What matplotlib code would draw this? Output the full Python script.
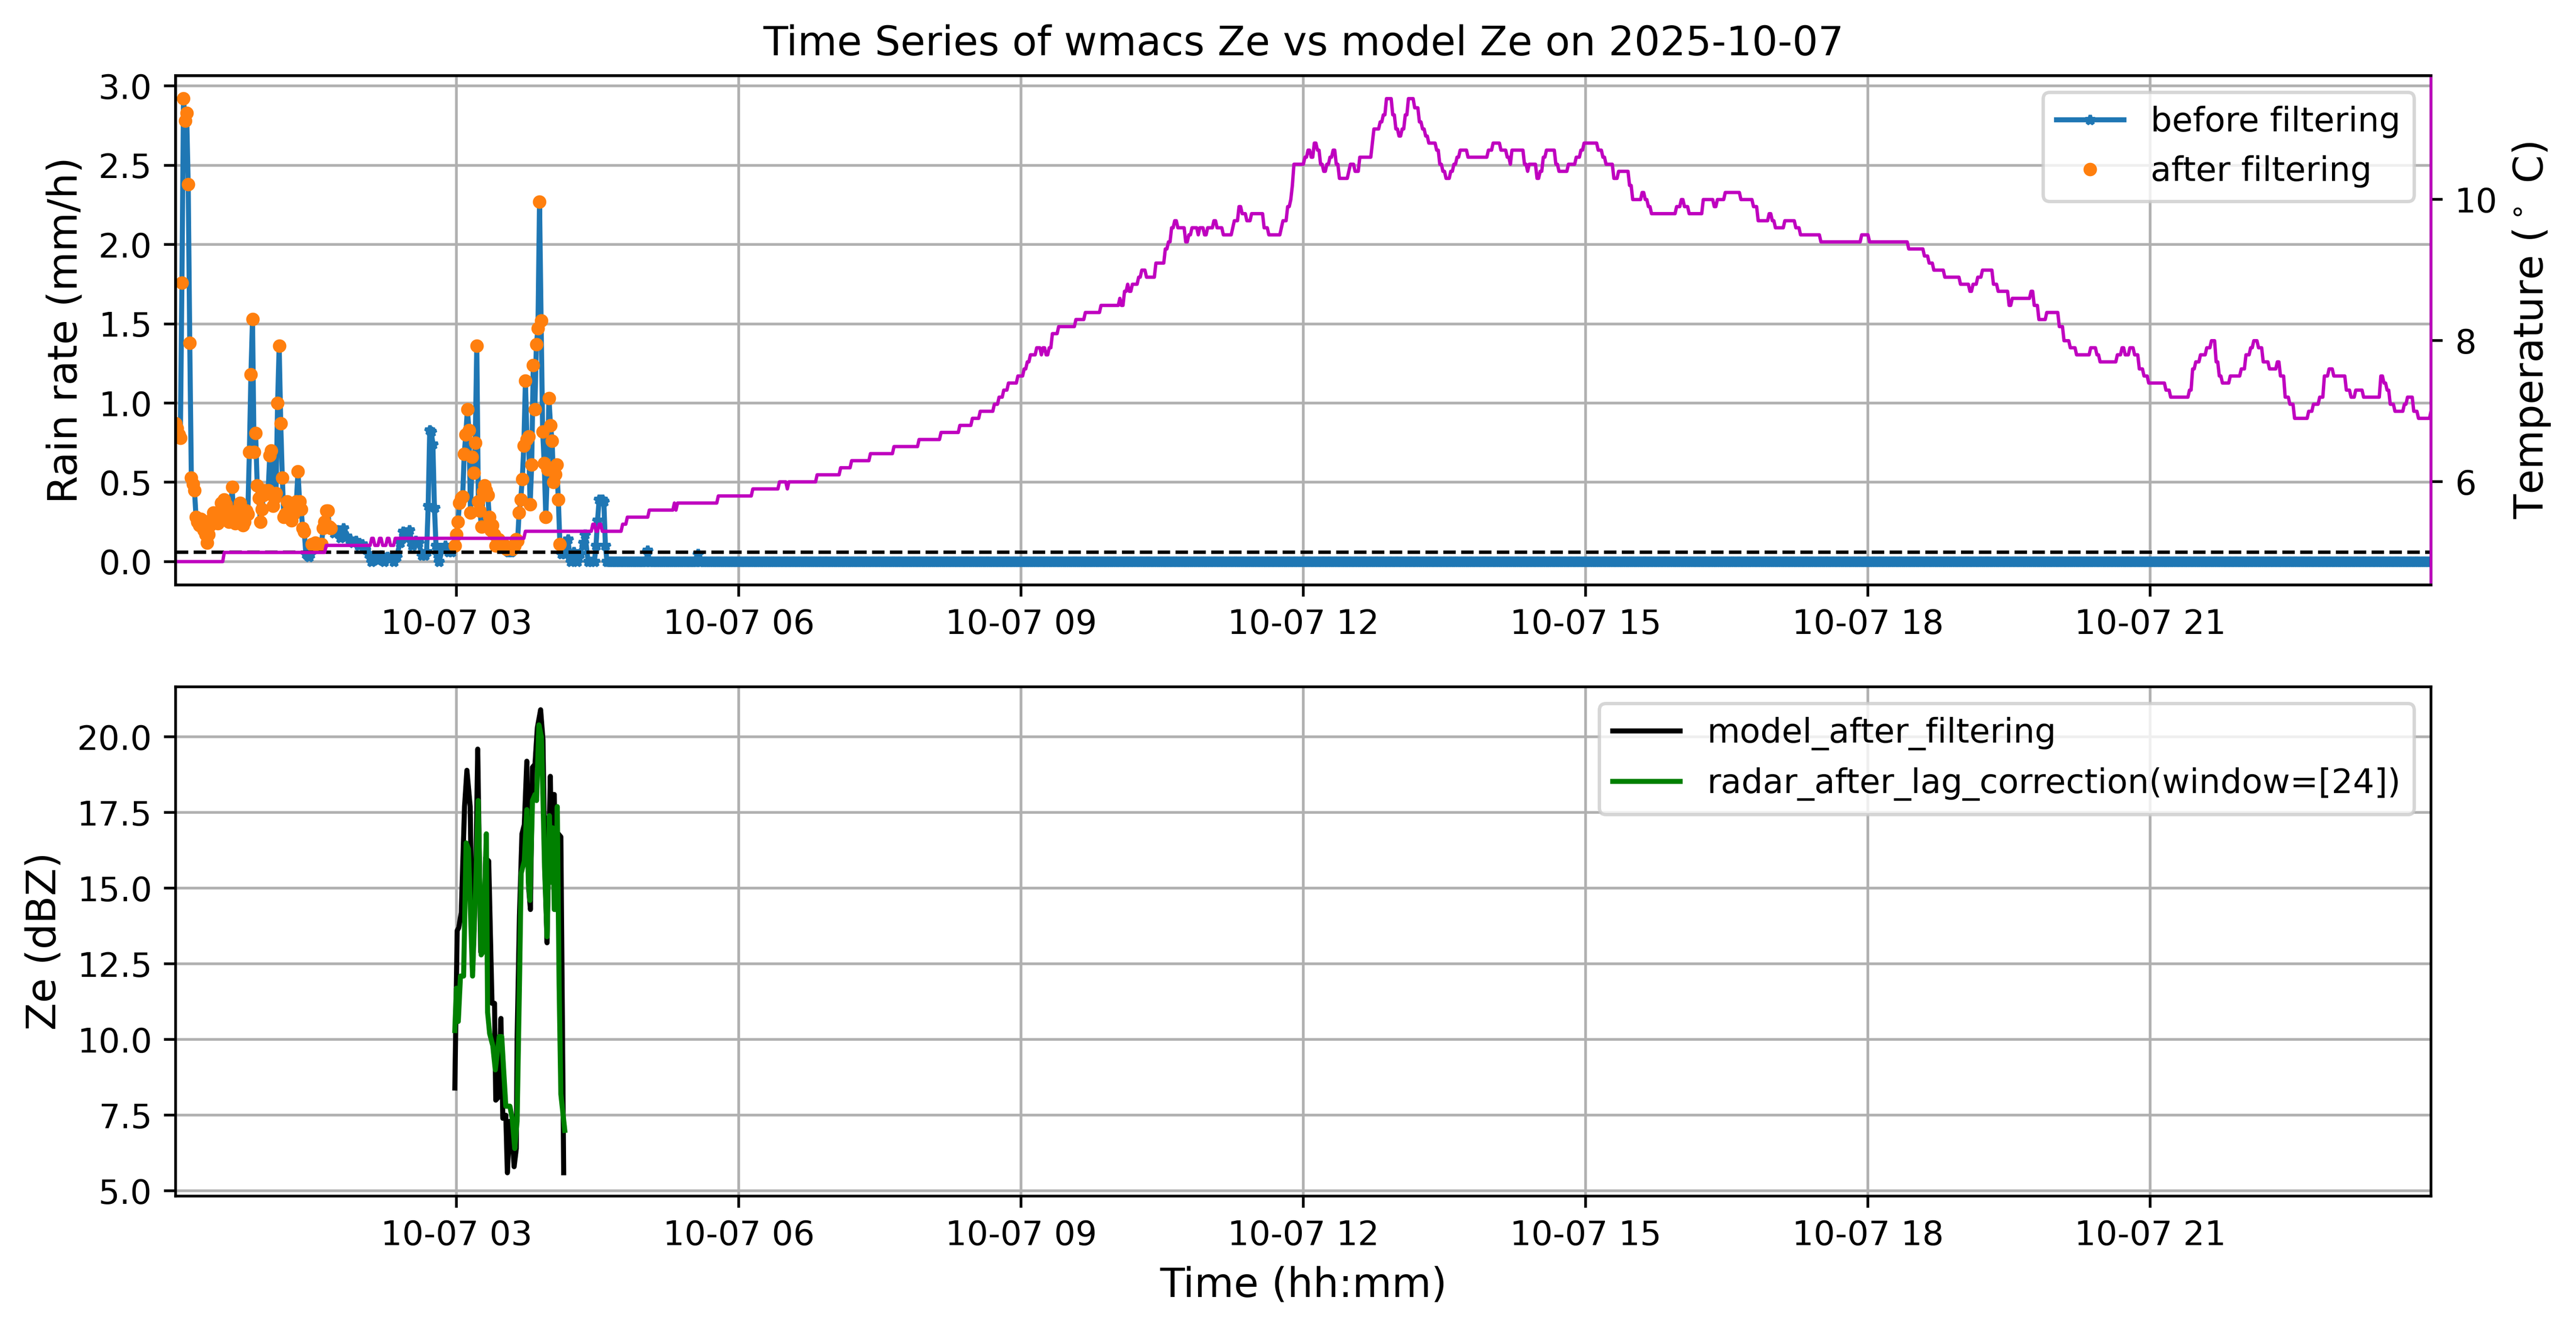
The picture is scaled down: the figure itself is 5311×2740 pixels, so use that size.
import numpy as np
import pandas as pd
import matplotlib
matplotlib.use("Agg")
import matplotlib.pyplot as plt

day = pd.Timestamp("2025-10-07")

# rain rate (mm/h), minutes after midnight
rain_minutes = list(range(1, 101)) + list(range(102, 147, 2)) + [
    148, 150, 152, 154, 156, 158, 160, 161, 162, 163, 164, 165, 166, 167, 168, 169,
    171, 173, 175, 177] + list(range(179, 248)) + [
    249, 251, 253, 255, 257, 259, 261, 262, 264, 266, 268, 269, 270, 271, 273, 274,
    275, 276, 302, 334]
rain_values = [
    0.87, 0.84, 0.80, 0.78, 1.76, 2.92, 2.78, 2.83, 2.38, 1.38,
    0.53, 0.49, 0.45, 0.28, 0.25, 0.23, 0.27, 0.26, 0.20, 0.17,
    0.12, 0.17, 0.23, 0.27, 0.31, 0.25, 0.27, 0.24, 0.29, 0.37,
    0.33, 0.39, 0.36, 0.30, 0.25, 0.30, 0.47, 0.27, 0.24, 0.25,
    0.33, 0.37, 0.28, 0.23, 0.25, 0.32, 0.30, 0.69, 1.18, 1.53,
    0.69, 0.81, 0.48, 0.40, 0.25, 0.33, 0.42, 0.45, 0.44, 0.45,
    0.67, 0.70, 0.35, 0.40, 0.43, 1.00, 1.36, 0.87, 0.53, 0.28,
    0.30, 0.38, 0.32, 0.30, 0.26, 0.30, 0.33, 0.38, 0.57, 0.38,
    0.33, 0.21, 0.19, 0.05, 0.04, 0.03, 0.05, 0.11, 0.10, 0.12,
    0.10, 0.11, 0.10, 0.11, 0.21, 0.25, 0.32, 0.32, 0.22, 0.21,
    # 102..146 every 2 min
    0.18, 0.20, 0.15, 0.21, 0.16, 0.14, 0.12, 0.13, 0.10, 0.11, 0.08, 0.05,
    0.00, 0.03, 0.01, 0.04, 0.00, 0.03, 0.02, 0.00, 0.03, 0.12, 0.19,
    # 148..177
    0.15, 0.20, 0.10, 0.13, 0.12, 0.04, 0.04, 0.06, 0.35, 0.83, 0.82, 0.74, 0.34, 0.10,
    0.05, 0.00, 0.08, 0.10, 0.06, 0.06,
    # 179..247
    0.10, 0.17, 0.25, 0.37, 0.40, 0.41, 0.68, 0.80, 0.96, 0.83,
    0.31, 0.66, 0.56, 0.75, 1.36, 0.38, 0.32, 0.22, 0.44, 0.48,
    0.45, 0.42, 0.28, 0.20, 0.23, 0.17, 0.10, 0.10, 0.14, 0.12,
    0.10, 0.10, 0.10, 0.08, 0.06, 0.06, 0.06, 0.08, 0.10, 0.14,
    0.13, 0.31, 0.39, 0.52, 0.73, 1.14, 0.77, 0.79, 0.36, 0.61,
    1.24, 0.96, 1.37, 1.47, 2.27, 1.52, 0.82, 0.62, 0.28, 0.58,
    1.03, 0.86, 0.76, 0.50, 0.55, 0.61, 0.39, 0.11, 0.05,
    # 249..334
    0.05, 0.14, 0.00, 0.06, 0.00, 0.05, 0.12, 0.17, 0.00, 0.00, 0.00, 0.10, 0.26, 0.39,
    0.39, 0.38, 0.10, 0.00, 0.07, 0.05]
dry_start, dry_end = 277, 1439   # rain stays at 0 mm/h here
dry_value = 0.0
threshold = 0.06
after_windows = [(1, 100), (179, 247)]

# temperature (deg C): minute where the reading changes, new reading
temp_minutes = [
    1, 32, 97, 126, 128, 131, 133, 136, 138, 141, 224, 267, 269, 271, 273, 286, 289, 303, 319, 320,
    321, 347, 369, 386, 391, 392, 410, 425, 432, 444, 459, 475, 489, 501, 509, 514, 523, 526, 529, 532,
    538, 542, 544, 546, 550, 553, 554, 556, 558, 560, 564, 575, 581, 591, 603, 604, 606, 608, 609, 611,
    615, 617, 620, 626, 632, 634, 636, 638, 640, 645, 647, 649, 653, 654, 657, 659, 663, 665, 669, 675,
    676, 679, 681, 684, 687, 695, 698, 706, 707, 710, 712, 713, 714, 721, 723, 725, 727, 729, 731, 733,
    735, 737, 739, 741, 743, 749, 750, 753, 756, 764, 765, 769, 771, 773, 777, 779, 781, 783, 785, 787,
    791, 794, 796, 798, 800, 805, 807, 809, 811, 814, 816, 818, 820, 825, 838, 841, 846, 850, 852, 853,
    861, 863, 864, 869, 871, 873, 875, 881, 883, 889, 894, 897, 899, 908, 911, 913, 918, 921, 928, 930,
    936, 938, 940, 942, 958, 961, 963, 966, 975, 982, 984, 989, 999, 1007, 1010, 1017, 1019, 1021, 1027, 1034,
    1037, 1050, 1076, 1081, 1106, 1116, 1119, 1122, 1129, 1139, 1145, 1147, 1150, 1153, 1160, 1163, 1170, 1172, 1184, 1186,
    1189, 1194, 1202, 1205, 1209, 1213, 1222, 1226, 1228, 1239, 1242, 1244, 1247, 1250, 1253, 1256, 1259, 1270, 1273, 1285,
    1287, 1289, 1292, 1296, 1299, 1302, 1304, 1306, 1311, 1318, 1321, 1324, 1326, 1329, 1332, 1336, 1341, 1343, 1346, 1349,
    1352, 1361, 1364, 1368, 1371, 1374, 1377, 1385, 1388, 1391, 1396, 1407, 1409, 1411, 1413, 1416, 1422, 1424, 1428, 1431,
    1439]
temp_values = [
    4.87, 5.0, 5.1, 5.2, 5.1, 5.2, 5.1, 5.2, 5.1, 5.2, 5.3, 5.4, 5.3, 5.4, 5.3, 5.4, 5.5, 5.6, 5.7, 5.6,
    5.7, 5.8, 5.9, 6.0, 5.9, 6.0, 6.1, 6.2, 6.3, 6.4, 6.5, 6.6, 6.7, 6.8, 6.9, 7.0, 7.1, 7.2, 7.3, 7.4,
    7.5, 7.6, 7.7, 7.8, 7.9, 7.8, 7.9, 7.8, 7.9, 8.1, 8.2, 8.3, 8.4, 8.5, 8.6, 8.5, 8.7, 8.8, 8.7, 8.8,
    8.9, 9.0, 8.9, 9.1, 9.3, 9.4, 9.6, 9.7, 9.6, 9.4, 9.5, 9.6, 9.5, 9.6, 9.5, 9.6, 9.7, 9.6, 9.5, 9.6,
    9.7, 9.9, 9.8, 9.7, 9.8, 9.6, 9.5, 9.6, 9.7, 9.9, 10.0, 10.2, 10.5, 10.6, 10.7, 10.6, 10.8, 10.7, 10.5, 10.4,
    10.5, 10.6, 10.7, 10.5, 10.3, 10.4, 10.5, 10.4, 10.6, 10.8, 11.0, 11.1, 11.2, 11.43, 11.2, 11.0, 10.9, 11.0, 11.2, 11.43,
    11.3, 11.1, 11.0, 10.9, 10.8, 10.7, 10.5, 10.4, 10.3, 10.4, 10.5, 10.6, 10.7, 10.6, 10.7, 10.8, 10.7, 10.6, 10.5, 10.7,
    10.5, 10.4, 10.5, 10.3, 10.4, 10.6, 10.7, 10.5, 10.4, 10.5, 10.6, 10.7, 10.8, 10.7, 10.6, 10.5, 10.3, 10.4, 10.2, 10.0,
    10.1, 10.0, 9.9, 9.8, 9.9, 10.0, 9.9, 9.8, 10.0, 9.9, 10.0, 10.1, 10.0, 9.9, 9.7, 9.8, 9.7, 9.6, 9.7, 9.6,
    9.5, 9.4, 9.5, 9.4, 9.3, 9.2, 9.1, 9.0, 8.9, 8.8, 8.7, 8.8, 8.9, 9.0, 8.8, 8.7, 8.5, 8.6, 8.7, 8.5,
    8.3, 8.4, 8.2, 8.0, 7.9, 7.8, 7.9, 7.8, 7.7, 7.8, 7.9, 7.8, 7.9, 7.8, 7.6, 7.5, 7.4, 7.3, 7.2, 7.3,
    7.6, 7.7, 7.8, 7.9, 8.0, 7.7, 7.5, 7.4, 7.5, 7.6, 7.8, 7.9, 8.0, 7.9, 7.7, 7.6, 7.7, 7.5, 7.2, 7.1,
    6.9, 7.0, 7.1, 7.2, 7.5, 7.6, 7.5, 7.3, 7.2, 7.3, 7.2, 7.5, 7.4, 7.3, 7.1, 7.0, 7.1, 7.2, 7.0, 6.9,
    7.0]

# Ze (dBZ)
ze_model_minutes = [
    179.0, 180.5, 181.5, 183.1, 185.2, 186.7, 188.8, 190.3, 192.4, 193.6, 195.5, 197.5, 198.6, 200.6,
    202.7, 204.3, 205.1, 206.8, 208.4, 209.6, 211.5, 212.5, 214.1, 215.6, 216.8, 218.2, 218.7, 220.2,
    221.8, 223.3, 224.9, 226.1, 227.2, 228.5, 230.1, 231.6, 233.7, 235.2, 236.4, 237.8, 238.8, 239.9,
    240.9, 241.6, 242.4, 243.5, 245.0, 246.6, 248.4]
ze_model_values = [
    8.4, 13.6, 13.7, 14.2, 17.7, 18.9, 17.7, 12.3, 15.6, 19.6, 12.9, 13.0, 16.0, 15.9,
    11.2, 11.2, 8.0, 8.1, 10.7, 7.4, 7.5, 5.6, 7.3, 6.9, 5.8, 6.4, 10.0, 14.1,
    16.8, 17.1, 19.2, 15.0, 14.3, 19.0, 19.1, 20.3, 20.9, 19.9, 15.7, 13.2, 16.0, 18.7,
    15.2, 18.1, 18.1, 15.2, 16.8, 16.7, 5.6]
ze_radar_minutes = [
    179.0, 180.0, 181.2, 182.6, 184.6, 186.2, 187.7, 190.3, 192.4, 193.9, 195.8, 197.0, 199.1, 199.9,
    201.2, 203.2, 204.8, 207.3, 208.9, 209.9, 211.5, 214.1, 215.6, 217.2, 218.7, 220.2, 221.3, 223.3,
    224.9, 225.9, 226.9, 228.5, 230.1, 231.1, 232.6, 234.2, 235.2, 236.2, 237.8, 239.3, 240.4, 241.4,
    242.4, 243.5, 244.3, 245.5, 246.6, 249.1]
ze_radar_values = [
    10.3, 11.7, 10.6, 12.1, 12.1, 16.5, 16.3, 12.1, 15.2, 17.9, 12.8, 12.9, 16.8, 10.9,
    10.2, 9.8, 9.0, 10.1, 10.1, 9.2, 7.8, 7.8, 7.4, 6.4, 7.3, 11.8, 15.5, 15.9,
    17.6, 15.2, 14.6, 17.9, 18.1, 17.9, 20.4, 20.0, 18.0, 15.7, 13.4, 17.4, 15.2, 17.0,
    14.3, 14.3, 17.7, 11.8, 8.2, 7.0]


def to_time(minutes):
    return day + pd.to_timedelta(np.asarray(minutes, dtype=float), unit="min")


# rain series: wet readings plus the dry rest of the day
dry_minutes = [m for m in range(dry_start, dry_end + 1) if m not in rain_minutes]
rain = pd.Series(rain_values + [dry_value] * len(dry_minutes),
                 index=rain_minutes + dry_minutes).sort_index()
rain_t = to_time(rain.index)

keep = np.zeros(len(rain), dtype=bool)
for a, b in after_windows:
    keep |= (rain.index >= a) & (rain.index <= b)
keep &= rain.values > threshold

# temperature holds its value until the next change
tx, ty = [], []
for i, (m, v) in enumerate(zip(temp_minutes, temp_values)):
    tx.append(m)
    ty.append(v)
    if i + 1 < len(temp_minutes) and temp_minutes[i + 1] - 1 > m:
        tx.append(temp_minutes[i + 1] - 1)
        ty.append(v)
temp_t = to_time(tx)

fig, (ax1, ax3) = plt.subplots(2, 1, figsize=(12, 6))

ax1.plot(rain_t, rain.values, marker='*', markersize=3, label='before filtering')
ax1.plot(rain_t[keep], rain.values[keep], '.', label='after filtering')
ax1.axhline(threshold, color='k', linestyle='--', linewidth=1)
ax1.set_ylabel('Rain rate (mm/h)', fontsize=12)
ax1.set_title('Time Series of wmacs Ze vs model Ze on 2025-10-07', fontsize=12)
ax1.grid(True)
ax1.legend(loc='upper right')

ax2 = ax1.twinx()
ax2.plot(temp_t, ty, color='m', linewidth=1)
ax2.set_ylabel('Temperature ($^\\circ$ C)', fontsize=12)
ax2.spines['right'].set_color('m')

ax3.plot(to_time(ze_model_minutes), ze_model_values, color='k', label='model_after_filtering')
ax3.plot(to_time(ze_radar_minutes), ze_radar_values, color='g',
         label='radar_after_lag_correction(window=[24])')
ax3.set_ylabel('Ze (dBZ)', fontsize=12)
ax3.set_xlabel('Time (hh:mm)', fontsize=12)
ax3.grid(True)
ax3.legend(loc='upper right')

for ax in (ax1, ax3):
    ax.set_xlim(rain_t[0], rain_t[-1])

fig.savefig('out.png', dpi=500, bbox_inches='tight')
